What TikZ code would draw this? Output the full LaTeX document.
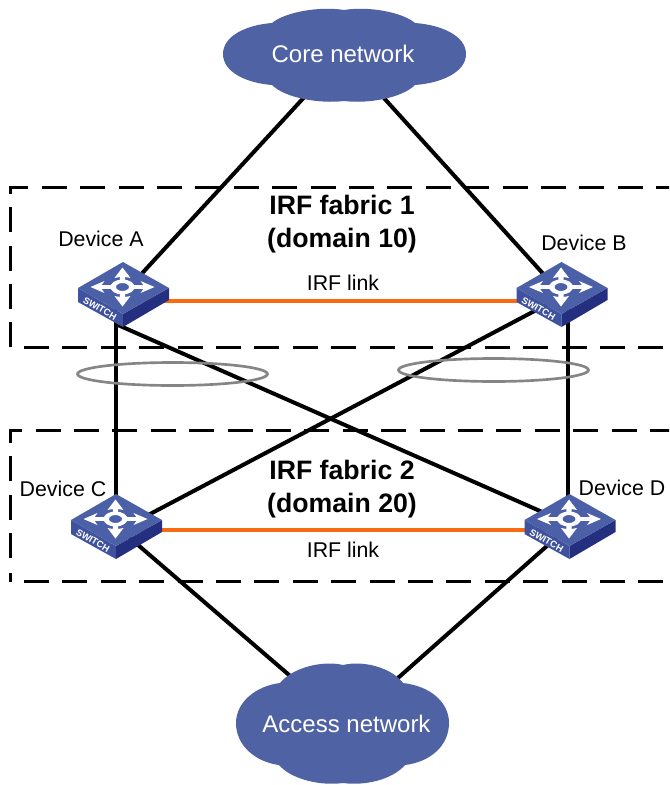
\documentclass[tikz,border=0pt]{standalone}
\usepackage{fontspec}
\setmainfont{Liberation Sans}
\definecolor{cloudblue}{HTML}{4F62A4}
\definecolor{swtop}{HTML}{4C60A8}
\definecolor{swleft}{HTML}{3F52A0}
\definecolor{swright}{HTML}{252F80}
\definecolor{irforange}{HTML}{F96A12}
\definecolor{lagray}{HTML}{858585}
\tikzset{
  x=0.75pt,y=-0.75pt,
  swanchor/.style={inner sep=0pt,minimum size=0pt},
  link/.style={line width=3pt,black},
  irflink/.style={line width=3pt,irforange},
  fabricbox/.style={line width=2.25pt,dash pattern=on 18.75pt off 10.05pt},
  lag/.style={draw=lagray,line width=2pt},
  cloudfill/.style={fill=cloudblue,draw=none},
  cloudtext/.style={white,font=\fontsize{18}{20}\selectfont,inner sep=0pt},
  devtext/.style={black,font=\fontsize{16}{18}\selectfont,inner sep=0pt},
  fabrictext/.style={black,font=\bfseries\fontsize{20}{25}\selectfont,align=center,inner sep=0pt},
  switchicon/.pic={
    \fill[swleft] (-45,-6) -- (0,20) -- (0,33) -- (-45,8) -- cycle;
    \fill[swright] (0,20) -- (46,-6) -- (46,6) -- (0,33) -- cycle;
    \fill[swtop] (0,-32) -- (46,-6) -- (0,20) -- (-45,-6) -- cycle;
    \begin{scope}[shift={(-0.5,-7)}]
      \foreach \s in {1,-1}{
        \fill[white,xscale=\s] (9,-1.8) -- (21,-1.8) -- (18,-6) -- (32,0) -- (18,6) -- (21,1.8) -- (9,1.8) -- cycle;
        \fill[white,yscale=\s] (-2.6,6) -- (-2.6,10) -- (-8,9) -- (0,19.5) -- (8,9) -- (2.6,10) -- (2.6,6) -- cycle;
      }
      \fill[white,even odd rule]
        (0,0) ellipse [x radius=12,y radius=7.5] (0,0) ellipse [x radius=6.5,y radius=4];
    \end{scope}
    \node[white,font=\bfseries\fontsize{7}{8}\selectfont,inner sep=0pt,rotate=-30] at (-23,14.5) {SWITCH};
  }
}
\begin{document}
\begin{tikzpicture}
\useasboundingbox (0,0) rectangle (669,785);
\clip (0,0) rectangle (669,785);
% anchors
\node[swanchor] (A) at (123,294) {};
\node[swanchor] (B) at (561.5,294) {};
\node[swanchor] (C) at (116,526) {};
\node[swanchor] (D) at (569.5,526) {};
\coordinate (coreC) at (344,54);
\coordinate (accessC) at (346,724);
% fabric boxes
\coordinate (boxAs) at (10,347.3);
\coordinate (boxAt) at (10,187);
\coordinate (boxAr) at (680,187);
\coordinate (boxAb) at (24,347.3);
\coordinate (boxAe) at (680,347.3);
\coordinate (boxBs) at (10,558);
\coordinate (boxBt) at (10,430);
\coordinate (boxBr) at (680,430);
\coordinate (boxBc) at (10,581.5);
\coordinate (boxBk) at (10,573);
\coordinate (boxBb) at (24,581.5);
\coordinate (boxBe) at (680,581.5);
\draw[fabricbox] (boxAs) -- (boxAt) -- (boxAr);
\draw[fabricbox] (boxAb) -- (boxAe);
\draw[fabricbox] (boxBs) -- (boxBt) -- (boxBr);
\draw[fabricbox] (boxBb) -- (boxBe);
\draw[line width=2.25pt] (boxBc) -- (boxBk);
% connectors
\coordinate (Al) at (116,294);
\coordinate (Cl) at (116,526);
\coordinate (Br) at (567.7,294);
\coordinate (Dr) at (567.7,526);
\coordinate (ADa) at (118,325);
\coordinate (ADb) at (569.5,524);
\coordinate (BCa) at (561,297);
\coordinate (BCb) at (116,532);
\draw[link] (coreC) -- (A);
\draw[link] (coreC) -- (B);
\draw[link] (Al) -- (Cl);
\draw[link] (Br) -- (Dr);
\draw[link] (ADa) -- (ADb);
\draw[link] (BCa) -- (BCb);
\draw[link] (C) -- (accessC);
\draw[link] (D) -- (accessC);
\draw[irflink] ([yshift=-4.9pt]A.center) -- ([yshift=-4.9pt]B.center);
\draw[irflink] ([yshift=-3.3pt]C.center) -- ([yshift=-3.3pt]D.center);
% aggregation ellipses
\draw[lag] (172.5,374) ellipse [x radius=95,y radius=11.5];
\draw[lag] (493.5,370) ellipse [x radius=95,y radius=11.5];
% switches
\pic at (A) {switchicon};
\pic at (B) {switchicon};
\pic at (C) {switchicon};
\pic at (D) {switchicon};
% clouds
\fill[cloudfill] (223,54) .. controls (223,36) and (246,25) .. (272,23)
  .. controls (285,12) and (320,6) .. (344,10)
  .. controls (368,6) and (402,12) .. (415,23)
  .. controls (442,25) and (466,36) .. (466,54)
  .. controls (466,72) and (442,83) .. (415,85)
  .. controls (402,98) and (368,104) .. (344,101)
  .. controls (320,104) and (285,98) .. (272,85)
  .. controls (246,83) and (223,72) .. (223,54) -- cycle;
\fill[cloudfill] (236,723) .. controls (236,702) and (256,686) .. (280,683)
  .. controls (292,668) and (322,660) .. (343,665)
  .. controls (364,660) and (392,668) .. (403,683)
  .. controls (430,686) and (449,702) .. (449,723)
  .. controls (449,746) and (430,762) .. (405,765)
  .. controls (392,780) and (364,786) .. (343,783)
  .. controls (322,786) and (292,780) .. (279,765)
  .. controls (256,762) and (236,746) .. (236,723) -- cycle;
% texts
\node[cloudtext] (coretext) at (343,54) {Core network};
\node[cloudtext] (accesstext) at (346.5,724) {Access network};
\node[devtext] (devA) at (101,239) {Device A};
\node[devtext] (devB) at (584,243) {Device B};
\node[devtext] (devC) at (63,489) {Device C};
\node[devtext] (devD) at (622,488) {Device D};
\node[devtext] (irf1) at (343,283) {IRF link};
\node[devtext] (irf2) at (343,550) {IRF link};
\node[fabrictext] (fab1) at (342,224) {IRF fabric 1\\(domain 10)};
\node[fabrictext] (fab2) at (342,489) {IRF fabric 2\\(domain 20)};
\end{tikzpicture}
\end{document}
